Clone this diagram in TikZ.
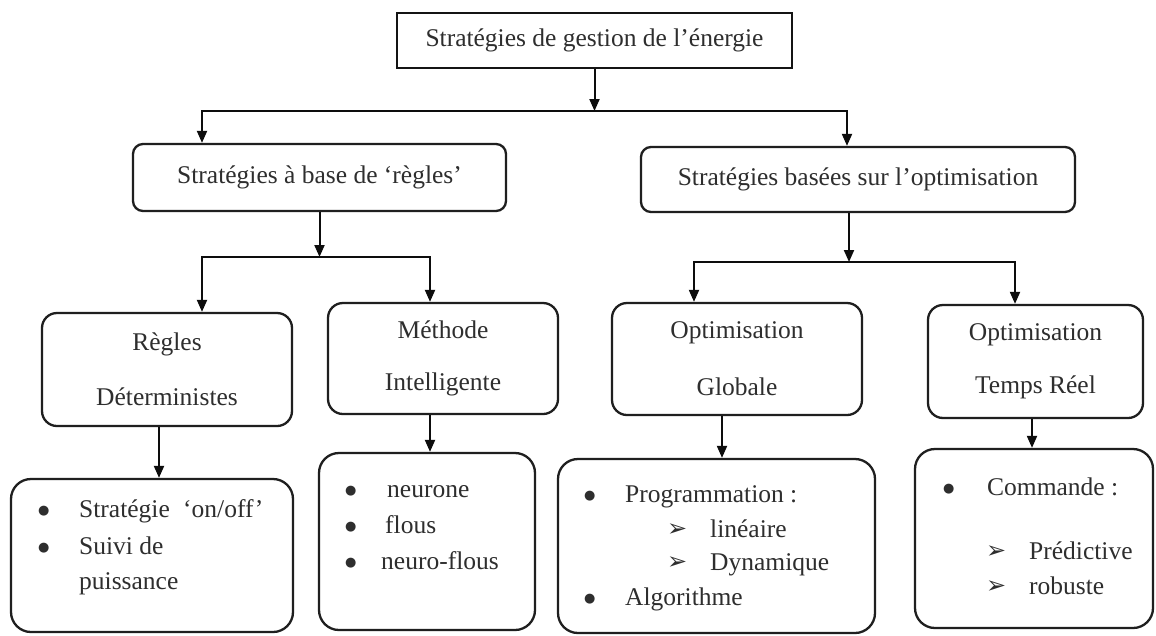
\documentclass[tikz,border=0pt]{standalone}
\usepackage{fontspec}
\setmainfont{Liberation Serif}
\newfontfamily\dejavu{DejaVu Sans}
\usetikzlibrary{arrows.meta}
\newcommand{\pointer}{\raisebox{1pt}{\dejavu\fontsize{24pt}{24pt}\selectfont ➢}}
\newcommand{\bul}{\raisebox{2.5pt}{\dejavu\fontsize{13pt}{13pt}\selectfont ●}}
\tikzset{
  txt/.style={font=\fontsize{25.5pt}{30pt}\selectfont, text=black!82},
  sqbox/.style={txt, draw=black!92, line width=2.7pt, inner sep=0pt},
  rbox/.style={txt, draw=black!88, line width=2.3pt, rounded corners=15pt, inner sep=0pt, align=center},
  litem/.style={txt, anchor=base west, inner sep=0pt},
  conn/.style={draw=black!95, line width=2pt},
  arr/.style={conn, -{Triangle[length=12pt,width=10pt]}},
}
\begin{document}
\begin{tikzpicture}[x=1pt,y=-1pt]
\useasboundingbox (0,0) rectangle (1156,635);
\fill[white] (0,0) rectangle (1156,635);

% level 1
\node[sqbox, minimum width=395pt, minimum height=55pt] (top) at (594.5,40.5) {Stratégies de gestion de l’énergie};

% level 2
\node[rbox, rounded corners=10pt, minimum width=373pt, minimum height=67pt] (ra) at (319.5,177.5) {Stratégies à base de ‘règles’};
\node[rbox, rounded corners=10pt, minimum width=434pt, minimum height=65pt] (ob) at (858,179.5) {Stratégies basées sur l’optimisation};

% level 3
\node[rbox, minimum width=250pt, minimum height=113pt] (regles) at (167,369.5) {Règles\\[25pt]Déterministes};
\node[rbox, minimum width=230pt, minimum height=111pt] (methode) at (443,358.5) {Méthode\\[22pt]Intelligente};
\node[rbox, minimum width=250pt, minimum height=112pt] (optg) at (737,359) {Optimisation\\[27pt]Globale};
\node[rbox, minimum width=215pt, minimum height=113pt] (tr) at (1035.5,361.5) {Optimisation\\[23pt]Temps Réel};

% level 4 boxes
\node[rbox, rounded corners=20pt, minimum width=282pt, minimum height=153pt] (b1) at (152,555.5) {};
\node[rbox, rounded corners=20pt, minimum width=216pt, minimum height=177pt] (b2) at (427,541.5) {};
\node[rbox, rounded corners=20pt, minimum width=317pt, minimum height=174pt] (b3) at (716.5,546) {};
\node[rbox, rounded corners=20pt, minimum width=238pt, minimum height=179pt] (b4) at (1034,538.5) {};

% level 4 texts
\node[litem] (b1a) at (38,517) {\makebox[41pt][l]{\bul}Stratégie\hspace{7pt} ‘on/off’};
\node[litem] (b1b) at (38,554) {\makebox[41pt][l]{\bul}Suivi de};
\node[litem] (b1c) at (79,589) {puissance};

\node[litem] (b2a) at (345,497) {\makebox[42pt][l]{\bul}neurone};
\node[litem] (b2b) at (345,533) {\makebox[40pt][l]{\bul}flous};
\node[litem] (b2c) at (345,569) {\makebox[36pt][l]{\bul}neuro-flous};

\node[litem] (b3a) at (584,502) {\makebox[41pt][l]{\bul}Programmation :};
\node[litem] (b3b) at (667,537) {\makebox[43pt][l]{\pointer}linéaire};
\node[litem] (b3c) at (667,570) {\makebox[43pt][l]{\pointer}Dynamique};
\node[litem] (b3d) at (584,605) {\makebox[41pt][l]{\bul}Algorithme};

\node[litem] (b4a) at (943,495) {\makebox[44pt][l]{\bul}Commande :};
\node[litem] (b4b) at (986,559) {\makebox[43pt][l]{\pointer}Prédictive};
\node[litem] (b4c) at (986,594) {\makebox[43pt][l]{\pointer}robuste};

% connectors level 1 -> 2
\coordinate (j1) at (594.5,111);
\draw[arr] (top.south) -- (j1);
\draw[arr] (j1) -| ([xshift=-117.5pt]ra.north);
\draw[arr] (j1) -| ([xshift=-11pt]ob.north);

% level 2 -> 3
\coordinate (j2) at (319.5,257);
\draw[arr] (ra.south) -- (j2);
\draw[arr] (j2) -| ([xshift=35pt]regles.north);
\draw[arr] (j2) -| ([xshift=-13pt]methode.north);

\coordinate (j3) at (849,262);
\coordinate (obs) at ([xshift=-9pt]ob.south);
\draw[arr] (obs) -- (obs |- j3);
\draw[arr] (j3) -| ([xshift=-43pt]optg.north);
\draw[arr] (j3) -| ([xshift=-20.5pt]tr.north);

% level 3 -> 4
\coordinate (s1) at ([xshift=-8pt]regles.south);
\draw[arr] (s1) -- (s1 |- b1.north);
\coordinate (s2) at ([xshift=-13pt]methode.south);
\draw[arr] (s2) -- (s2 |- b2.north);
\coordinate (s3) at ([xshift=-15pt]optg.south);
\draw[arr] (s3) -- (s3 |- b3.north);
\coordinate (s4) at ([xshift=-3.5pt]tr.south);
\draw[arr] (s4) -- (s4 |- b4.north);
\end{tikzpicture}
\end{document}
